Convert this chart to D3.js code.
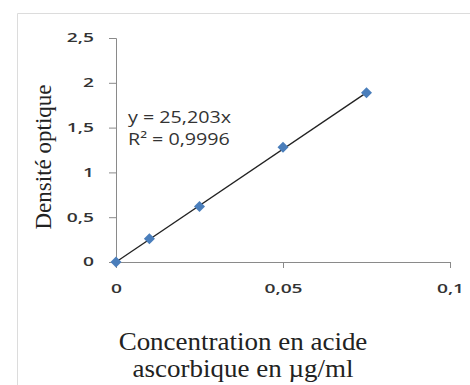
<!DOCTYPE html>
<html><head><meta charset="utf-8">
<script src="https://cdn.jsdelivr.net/npm/d3@7"></script>
<style>body{margin:0;background:#fff}</style>
</head><body>
<svg id="c" width="470" height="385"></svg>
<script>
const concentrations = [0, 0.01, 0.025, 0.05, 0.075];
const densities = [0, 0.26, 0.62, 1.28, 1.89];
const slope = 25.203;
const xTicks = [0, 0.05, 0.1];
const yTicks = [0, 0.5, 1, 1.5, 2, 2.5];
const equationLines = ["y = 25,203x", "R² = 0,9996"];
const xTitle = ["Concentration en acide", "ascorbique en µg/ml"];
const yTitle = "Densité optique";

const svg = d3.select("#c");
const fmt = d => String(d).replace(".", ",");
const x = d3.scaleLinear().domain([0, 0.1]).range([116, 450]);
const y = d3.scaleLinear().domain([0, 2.5]).range([262, 38]);
const SX = 1.6;

// frame
svg.append("path").attr("d", "M17.5,385 V13.5 H470").attr("fill", "none").attr("stroke", "#dcdcdc");

const ax = svg.append("g").attr("transform", "translate(0,262)")
  .call(d3.axisBottom(x).tickValues(xTicks).tickFormat(fmt).tickSize(6).tickPadding(16));
const ay = svg.append("g").attr("transform", "translate(116,0)")
  .call(d3.axisLeft(y).tickValues(yTicks).tickFormat(fmt).tickSize(7).tickPadding(15));
[ax, ay].forEach(g => {
  g.select(".domain").attr("stroke", "#8a8a8a");
  g.selectAll(".tick line").attr("stroke", "#8a8a8a");
  g.selectAll("text")
    .attr("font-family", "'Open Sans', sans-serif").attr("font-size", 12).attr("font-weight", 600).attr("fill", "#333")
    .each(function () {
      const t = d3.select(this);
      const xv = +t.attr("x") || 0;
      t.attr("x", xv / SX).attr("transform", `scale(${SX},1)`);
    });
});

// trendline
svg.append("line")
  .attr("x1", x(0)).attr("y1", y(0))
  .attr("x2", x(0.075)).attr("y2", y(slope * 0.075))
  .attr("stroke", "#222").attr("stroke-width", 1.3);

// points
svg.selectAll(".pt").data(concentrations).enter().append("path")
  .attr("class", "pt")
  .attr("transform", (d, i) => `translate(${x(d)},${y(densities[i])})`)
  .attr("d", d3.symbol().type(d3.symbolDiamond2).size(78))
  .attr("fill", "#4a7ebb");

// equation
svg.selectAll(".eq").data(equationLines).enter().append("text")
  .attr("transform", (d, i) => `translate(128,${123 + i * 22}) scale(1.23,1)`)
  .attr("font-family", "'Open Sans', sans-serif").attr("font-size", 16).attr("font-weight", 500).attr("fill", "#333")
  .text(d => d);

// x title
svg.selectAll(".xt").data(xTitle).enter().append("text")
  .attr("transform", (d, i) => `translate(243,${350 + i * 27}) scale(1.08,1)`)
  .attr("text-anchor", "middle")
  .attr("font-family", "'Liberation Serif', serif").attr("font-size", 25).attr("fill", "#222")
  .text(d => d);

// y title
svg.append("text")
  .attr("transform", "translate(51,157) rotate(-90)")
  .attr("text-anchor", "middle")
  .attr("font-family", "'Liberation Serif', serif").attr("font-size", 23).attr("fill", "#222")
  .text(yTitle);
</script>
</body></html>
